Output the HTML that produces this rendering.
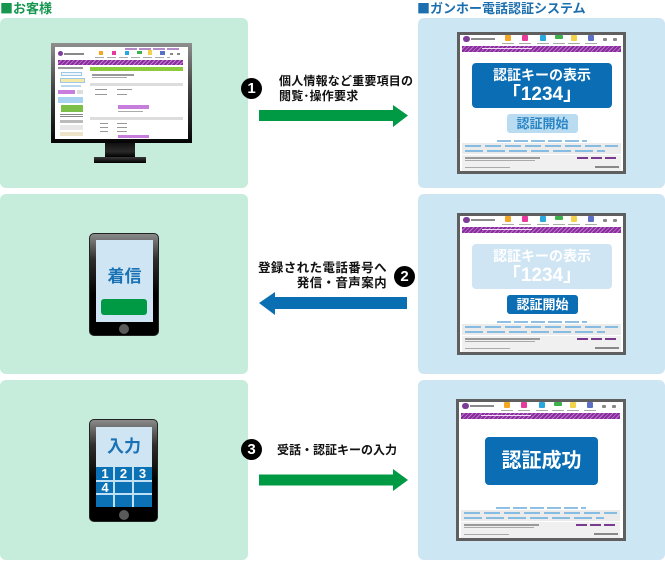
<!DOCTYPE html>
<html><head><meta charset="utf-8">
<style>
*{margin:0;padding:0;box-sizing:border-box}
body{width:665px;height:561px;background:#fff;position:relative;overflow:hidden;font-family:"Liberation Sans","Noto Sans CJK JP",sans-serif;}
.a{position:absolute}
.title{position:absolute;top:0;font-size:13px;font-weight:bold;line-height:15px;white-space:nowrap}
.sq{font-family:"Noto Sans CJK JP",sans-serif;font-size:13px}
.pg{position:absolute;left:0;width:248px;background:#c6ecdb;border-radius:6px}
.pb{position:absolute;left:418px;width:247px;background:#cde6f3;border-radius:6px}
.frm{position:absolute;width:169px;height:142px;border:3px solid #5f5f5f;background:#fff}
.frm div{position:absolute}
.lg1{left:3px;top:1px;width:7px;height:6px;background:#7d3c98;border-radius:3px}
.lg2{left:11px;top:3px;width:24px;height:2px;background:#8a8a8a}
.ic{top:0;width:6px;height:6px;border-radius:1px}
.il{top:8px;width:12px;height:1px;background:#aaa}
.bar{left:2px;top:11px;width:159px;height:6px;background:repeating-linear-gradient(135deg,#8a2b9e 0 2px,#b978c8 2px 3px)}
.bart{left:22px;top:13px;width:50px;height:1px;background:#f0dff4}
.fl{left:37px;top:105px;width:90px;height:2px;background:repeating-linear-gradient(90deg,#8fc0e4 0 14px,transparent 14px 17px)}
.fb{left:2px;top:108px;width:159px;height:11px;background:#ebebeb}
.fb1{left:5px;top:110px;width:153px;height:2px;background:repeating-linear-gradient(90deg,#86bbe2 0 16px,transparent 16px 20px)}
.fb2{left:5px;top:115px;width:140px;height:2px;background:repeating-linear-gradient(90deg,#86bbe2 0 18px,transparent 18px 22px)}
.fg{left:2px;top:120px;width:159px;height:16px;background:#f0f0f0}
.ft1{left:5px;top:122px;width:75px;height:2px;background:#999}
.ft2{left:5px;top:125px;width:70px;height:1px;background:#aaa}
.fp{left:117px;top:122px;width:42px;height:2px;background:repeating-linear-gradient(90deg,#7a3a90 0 11px,transparent 11px 14px)}
.fc{left:5px;top:132px;width:45px;height:1px;background:#aaa}
.fr{left:135px;top:131px;width:24px;height:2px;background:#888}
.box{display:flex;flex-direction:column;align-items:center;color:#fff;font-weight:bold;border-radius:4px}
.btn{border-radius:3px;font-weight:bold;font-size:13px;line-height:19px;text-align:center}
.circ{position:absolute;width:21px;height:21px;border-radius:50%;background:#000;color:#fff;font-weight:bold;font-size:15px;line-height:21px;text-align:center}
.at{position:absolute;font-size:12px;font-weight:bold;line-height:15px;color:#111;white-space:nowrap}
.scr div{position:absolute}
</style></head><body>

<div class="title" style="left:0;color:#17964f"><span class="sq">■</span>お客様</div>
<div class="title" style="left:417px;color:#1c6fae"><span class="sq">■</span>ガンホー電話認証システム</div>

<div class="pg" style="top:18px;height:170px"></div>
<div class="pg" style="top:194px;height:180px"></div>
<div class="pg" style="top:380px;height:180px"></div>
<div class="pb" style="top:18px;height:170px"></div>
<div class="pb" style="top:194px;height:180px"></div>
<div class="pb" style="top:380px;height:180px"></div>

<!-- monitor -->
<div class="a" style="left:51px;top:43px;width:141px;height:100px;background:linear-gradient(180deg,#8e8e8e 0%,#444 45%,#050505 100%)"></div>
<div class="a" style="left:105px;top:143px;width:30px;height:14px;background:linear-gradient(180deg,#111,#2a2a2a 60%,#000)"></div>
<div class="a" style="left:94px;top:157px;width:52px;height:6px;background:linear-gradient(180deg,#3a3a3a,#000)"></div>
<div class="a scr" style="left:55px;top:47px;width:133px;height:92px;background:#fff;overflow:hidden">
  <div style="left:70px;top:1px;width:56px;height:2px;background:repeating-linear-gradient(90deg,#b58ac8 0 12px,transparent 12px 14px)"></div>
  <div style="left:3px;top:4px;width:5px;height:5px;border-radius:3px;background:#7d3c98"></div>
  <div style="left:9px;top:6px;width:20px;height:2px;background:#888"></div>
  <div style="left:44px;top:4px;width:4px;height:4px;background:#f5a623"></div>
  <div style="left:57px;top:4px;width:4px;height:4px;background:#e6399b"></div>
  <div style="left:70px;top:4px;width:4px;height:4px;background:#29a8e0"></div>
  <div style="left:82px;top:4px;width:5px;height:3px;background:#3cb34a"></div>
  <div style="left:93px;top:3px;width:4px;height:5px;background:#f3d24b"></div>
  <div style="left:105px;top:4px;width:5px;height:4px;background:#5b6fc7"></div>
  <div style="left:115px;top:6px;width:3px;height:2px;background:#888"></div>
  <div style="left:122px;top:6px;width:3px;height:2px;background:#888"></div>
  <div style="left:40px;top:10px;width:75px;height:1px;background:repeating-linear-gradient(90deg,#aaa 0 9px,transparent 9px 12px)"></div>
  <div style="left:3px;top:13px;width:125px;height:5px;background:repeating-linear-gradient(135deg,#8a2b9e 0 2px,#c07fd0 2px 3px)"></div>
  <div style="left:3px;top:20px;width:25px;height:2px;background:#999"></div>
  <div style="left:6px;top:25px;width:21px;height:4px;border:1px solid #9cc8ea;background:#eef6fc"></div>
  <div style="left:5px;top:31px;width:25px;height:5px;background:#f6e9a6;border:1px solid #9cc8ea"></div>
  <div style="left:6px;top:38px;width:20px;height:2px;background:#b9d8ef"></div>
  <div style="left:3px;top:43px;width:17px;height:4px;background:#c77ddb"></div>
  <div style="left:22px;top:43px;width:6px;height:4px;background:#ddd"></div>
  <div style="left:3px;top:50px;width:25px;height:6px;background:#a9d3f0"></div>
  <div style="left:6px;top:58px;width:22px;height:7px;background:#7cc04a"></div>
  <div style="left:5px;top:67px;width:23px;height:4px;background:repeating-linear-gradient(180deg,#888 0 1px,transparent 1px 2px)"></div>
  <div style="left:5px;top:73px;width:23px;height:3px;background:#bbb"></div>
  <div style="left:5px;top:78px;width:23px;height:5px;background:#e7e7e7"></div>
  <div style="left:5px;top:85px;width:23px;height:4px;background:#ece4c8"></div>
  <div style="left:35px;top:20px;width:93px;height:4px;background:#8ccc3c"></div>
  <div style="left:37px;top:27px;width:42px;height:2px;background:#999"></div>
  <div style="left:37px;top:30px;width:35px;height:1px;background:#aaa"></div>
  <div style="left:35px;top:36px;width:93px;height:3px;background:#ddd"></div>
  <div style="left:40px;top:42px;width:12px;height:1px;background:#999"></div>
  <div style="left:62px;top:42px;width:15px;height:1px;background:#999"></div>
  <div style="left:40px;top:47px;width:12px;height:1px;background:#999"></div>
  <div style="left:62px;top:47px;width:10px;height:1px;background:#999"></div>
  <div style="left:63px;top:58px;width:31px;height:4px;background:#c77ddb"></div>
  <div style="left:63px;top:64px;width:25px;height:1px;background:#aaa"></div>
  <div style="left:35px;top:70px;width:93px;height:3px;background:#ddd"></div>
  <div style="left:45px;top:76px;width:8px;height:1px;background:#999"></div>
  <div style="left:62px;top:76px;width:10px;height:1px;background:#999"></div>
  <div style="left:45px;top:80px;width:8px;height:1px;background:#999"></div>
  <div style="left:62px;top:80px;width:10px;height:1px;background:#999"></div>
  <div style="left:45px;top:84px;width:8px;height:1px;background:#999"></div>
  <div style="left:62px;top:84px;width:10px;height:1px;background:#999"></div>
  <div style="left:63px;top:88px;width:31px;height:3px;background:#c77ddb"></div>
</div>

<!-- phone 1 -->
<div class="a" style="left:89px;top:233px;width:70px;height:103px;border-radius:5px;background:linear-gradient(180deg,#8a8a8a 0%,#2e2e2e 25%,#000 60%);border:1px solid #222"></div>
<div class="a" style="left:96px;top:240px;width:57px;height:82px;background:#cfe5f3"></div>
<div class="a" style="left:96px;top:266px;width:57px;text-align:center;font-size:17px;font-weight:bold;line-height:22px;color:#1a72b5">着信</div>
<div class="a" style="left:101px;top:299px;width:46px;height:16px;border-radius:3px;background:#009944"></div>
<div class="a" style="left:119px;top:324px;width:10px;height:10px;border-radius:50%;background:#5a5a5a"></div>

<!-- phone 2 -->
<div class="a" style="left:89px;top:419px;width:69px;height:103px;border-radius:5px;background:linear-gradient(180deg,#8a8a8a 0%,#2e2e2e 25%,#000 60%);border:1px solid #222"></div>
<div class="a" style="left:96px;top:427px;width:56px;height:40px;background:#cfe5f3"></div>
<div class="a" style="left:96px;top:436px;width:56px;text-align:center;font-size:17px;font-weight:bold;line-height:22px;color:#1a72b5">入力</div>
<div class="a" style="left:96px;top:467px;width:56px;height:40px;background:#0b72b5"></div>
<div class="a" style="left:113px;top:467px;width:1.5px;height:40px;background:#bfe0f5"></div>
<div class="a" style="left:132px;top:467px;width:1.5px;height:40px;background:#bfe0f5"></div>
<div class="a" style="left:96px;top:480px;width:56px;height:1.5px;background:#bfe0f5"></div>
<div class="a" style="left:96px;top:493px;width:56px;height:1.5px;background:#bfe0f5"></div>
<div class="a" style="left:96px;top:467px;width:18px;line-height:13px;text-align:center;color:#fff;font-weight:bold;font-size:13px">1</div>
<div class="a" style="left:114px;top:467px;width:19px;line-height:13px;text-align:center;color:#fff;font-weight:bold;font-size:13px">2</div>
<div class="a" style="left:133px;top:467px;width:19px;line-height:13px;text-align:center;color:#fff;font-weight:bold;font-size:13px">3</div>
<div class="a" style="left:96px;top:481px;width:18px;line-height:13px;text-align:center;color:#fff;font-weight:bold;font-size:13px">4</div>
<div class="a" style="left:119px;top:510px;width:10px;height:10px;border-radius:50%;background:#5a5a5a"></div>

<!-- arrows -->
<svg class="a" style="left:0;top:0" width="665" height="561">
  <polygon points="259,110 393,110 393,105 408,115.5 393,127 393,121 259,121" fill="#009944"/>
  <polygon points="407,297 275,297 275,292 259,303 275,315 275,309 407,309" fill="#0a6fb2"/>
  <polygon points="259,474.5 393,474.5 393,469 408,480 393,491 393,485.5 259,485.5" fill="#009944"/>
</svg>

<div class="circ" style="left:241px;top:78px">1</div>
<div class="at" style="left:279px;top:74px;letter-spacing:0.2px">個人情報など重要項目の<br>閲覧･操作要求</div>

<div class="circ" style="left:394px;top:266px">2</div>
<div class="at" style="left:230px;top:261px;width:157px;text-align:right;font-size:12.5px;letter-spacing:0.4px">登録された電話番号へ<br>発信・音声案内</div>

<div class="circ" style="left:241px;top:439px">3</div>
<div class="at" style="left:277px;top:443px">受話・認証キーの入力</div>

<!-- frame 1 -->
<div class="frm" style="left:457px;top:32px">
  <div class="lg1"></div><div class="lg2"></div>
  <div class="ic" style="left:45px;background:#f5a623"></div><div class="il" style="left:42px"></div>
  <div class="ic" style="left:62px;background:#e6399b"></div><div class="il" style="left:59px"></div>
  <div class="ic" style="left:80px;background:#29a8e0"></div><div class="il" style="left:77px"></div>
  <div class="ic" style="left:95px;height:4px;width:8px;background:#3cb34a"></div><div class="il" style="left:93px"></div>
  <div class="ic" style="left:111px;background:#f3d24b"></div><div class="il" style="left:108px"></div>
  <div class="ic" style="left:128px;background:#5b6fc7"></div><div class="il" style="left:125px"></div>
  <div class="ic" style="left:143px;top:3px;width:4px;height:3px;background:#888"></div>
  <div class="ic" style="left:153px;top:3px;width:4px;height:3px;background:#888"></div>
  <div class="bar"></div><div class="bart"></div>
  <div class="box" style="left:12px;top:28px;width:140px;height:45px;background:#0b6eb4;padding-top:3px">
    <span style="font-size:14px;line-height:18px">認証キーの表示</span>
    <span style="font-size:19px;line-height:22px">「1234」</span>
  </div>
  <div class="btn" style="left:47px;top:79px;width:71px;height:19px;background:#b9dcf1;color:#2c86c6">認証開始</div>
  <div class="fl"></div><div class="fb"></div><div class="fb1"></div><div class="fb2"></div>
  <div class="fg"></div><div class="ft1"></div><div class="ft2"></div><div class="fp"></div><div class="fc"></div><div class="fr"></div>
</div>

<!-- frame 2 -->
<div class="frm" style="left:457px;top:213px">
  <div class="lg1"></div><div class="lg2"></div>
  <div class="ic" style="left:45px;background:#f5a623"></div><div class="il" style="left:42px"></div>
  <div class="ic" style="left:62px;background:#e6399b"></div><div class="il" style="left:59px"></div>
  <div class="ic" style="left:80px;background:#29a8e0"></div><div class="il" style="left:77px"></div>
  <div class="ic" style="left:95px;height:4px;width:8px;background:#3cb34a"></div><div class="il" style="left:93px"></div>
  <div class="ic" style="left:111px;background:#f3d24b"></div><div class="il" style="left:108px"></div>
  <div class="ic" style="left:128px;background:#5b6fc7"></div><div class="il" style="left:125px"></div>
  <div class="ic" style="left:143px;top:3px;width:4px;height:3px;background:#888"></div>
  <div class="ic" style="left:153px;top:3px;width:4px;height:3px;background:#888"></div>
  <div class="bar"></div><div class="bart"></div>
  <div class="box" style="left:12px;top:28px;width:140px;height:45px;background:#cfe5f4;padding-top:3px">
    <span style="font-size:14px;line-height:18px">認証キーの表示</span>
    <span style="font-size:19px;line-height:22px">「1234」</span>
  </div>
  <div class="btn" style="left:47px;top:79px;width:71px;height:19px;background:#0b6eb4;color:#fff">認証開始</div>
  <div class="fl"></div><div class="fb"></div><div class="fb1"></div><div class="fb2"></div>
  <div class="fg"></div><div class="ft1"></div><div class="ft2"></div><div class="fp"></div><div class="fc"></div><div class="fr"></div>
</div>

<!-- frame 3 -->
<div class="frm" style="left:456px;top:399px;width:170px">
  <div class="lg1"></div><div class="lg2"></div>
  <div class="ic" style="left:45px;background:#f5a623"></div><div class="il" style="left:42px"></div>
  <div class="ic" style="left:62px;background:#e6399b"></div><div class="il" style="left:59px"></div>
  <div class="ic" style="left:80px;background:#29a8e0"></div><div class="il" style="left:77px"></div>
  <div class="ic" style="left:95px;height:4px;width:8px;background:#3cb34a"></div><div class="il" style="left:93px"></div>
  <div class="ic" style="left:111px;background:#f3d24b"></div><div class="il" style="left:108px"></div>
  <div class="ic" style="left:128px;background:#5b6fc7"></div><div class="il" style="left:125px"></div>
  <div class="ic" style="left:143px;top:3px;width:4px;height:3px;background:#888"></div>
  <div class="ic" style="left:153px;top:3px;width:4px;height:3px;background:#888"></div>
  <div class="bar"></div><div class="bart"></div>
  <div class="box" style="left:26px;top:35px;width:113px;height:48px;background:#0b6eb4;justify-content:center">
    <span style="font-size:20px;line-height:24px">認証成功</span>
  </div>
  <div class="fl"></div><div class="fb"></div><div class="fb1"></div><div class="fb2"></div>
  <div class="fg"></div><div class="ft1"></div><div class="ft2"></div><div class="fp"></div><div class="fc"></div><div class="fr"></div>
</div>

</body></html>
